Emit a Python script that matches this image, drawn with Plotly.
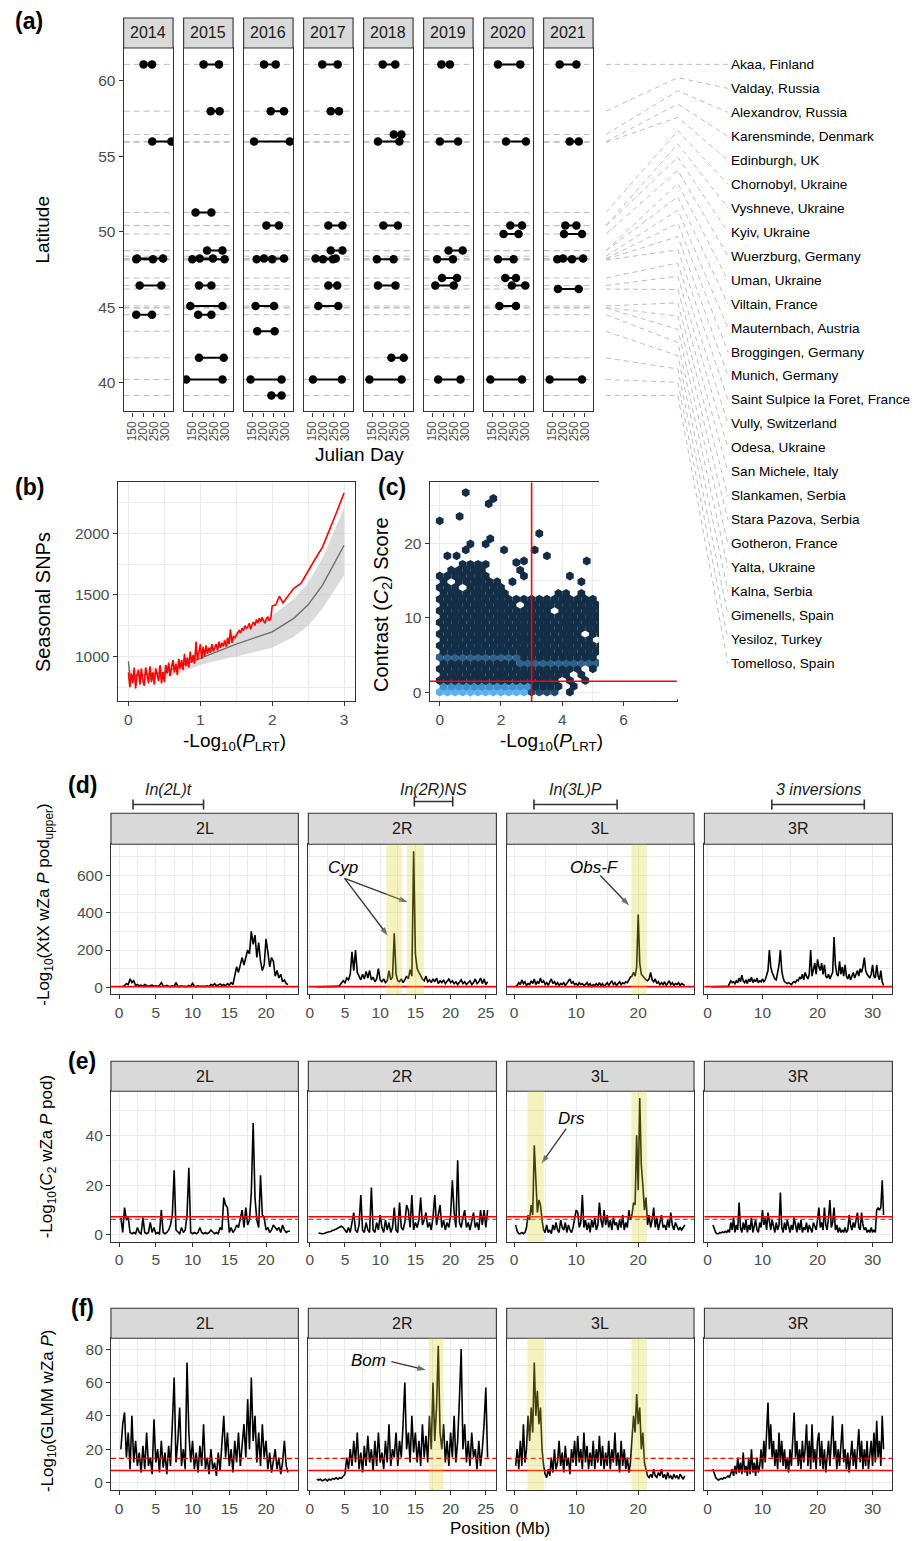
import numpy as np
import plotly.graph_objects as go

W, H = 920, 1541          # browser window
OFF = 8                   # page body margin
FW, FH = W - OFF, H - OFF  # figure size so that the figure ends at the window edge
FONT = "Liberation Sans, Arial, sans-serif"
INK = "#1A1A1A"
TICK_C = "#4D4D4D"
BORDER = "#333333"
GRID = "#EBEBEB"
RED = "#FF0000"

# ================= (a) sampling data =================
years = [2014, 2015, 2016, 2017, 2018, 2019, 2020, 2021]
locations = ["Akaa, Finland", "Valday, Russia", "Alexandrov, Russia", "Karensminde, Denmark",
             "Edinburgh, UK", "Chornobyl, Ukraine", "Vyshneve, Ukraine", "Kyiv, Ukraine",
             "Wuerzburg, Germany", "Uman, Ukraine", "Viltain, France", "Mauternbach, Austria",
             "Broggingen, Germany", "Munich, Germany", "Saint Sulpice la Foret, France",
             "Vully, Switzerland", "Odesa, Ukraine", "San Michele, Italy", "Slankamen, Serbia",
             "Stara Pazova, Serbia", "Gotheron, France", "Yalta, Ukraine", "Kalna, Serbia",
             "Gimenells, Spain", "Yesiloz, Turkey", "Tomelloso, Spain"]
latitudes = [61.10, 58.00, 56.45, 55.98, 55.93, 51.28, 50.42, 50.40, 49.85, 48.76, 48.74,
             48.38, 48.22, 48.18, 48.12, 46.93, 46.44, 46.20, 45.08, 44.97, 44.94, 44.50,
             43.40, 41.64, 40.20, 39.14]

sample_year = [2014, 2014, 2014, 2014, 2014, 2014,
               2015, 2015, 2015, 2015, 2015, 2015, 2015, 2015, 2015, 2015, 2015,
               2016, 2016, 2016, 2016, 2016, 2016, 2016, 2016, 2016, 2016,
               2017, 2017, 2017, 2017, 2017, 2017, 2017, 2017, 2017,
               2018, 2018, 2018, 2018, 2018, 2018, 2018, 2018,
               2019, 2019, 2019, 2019, 2019, 2019, 2019,
               2020, 2020, 2020, 2020, 2020, 2020, 2020, 2020, 2020,
               2021, 2021, 2021, 2021, 2021, 2021, 2021, 2021]
sample_site = ["Akaa", "Karensminde", "Munich", "Broggingen", "Odesa", "Yalta",
               "Akaa", "Valday", "Chornobyl", "Uman", "Munich", "Broggingen", "Odesa", "Slankamen", "Yalta", "Gimenells", "Yesiloz",
               "Akaa", "Valday", "Karensminde", "Vyshneve", "Munich", "Broggingen", "Slankamen", "Kalna", "Yesiloz", "Tomelloso",
               "Akaa", "Valday", "Vyshneve", "Uman", "Broggingen", "Munich", "Odesa", "Slankamen", "Yesiloz",
               "Akaa", "Alexandrov", "Karensminde", "Vyshneve", "Munich", "Odesa", "Gimenells", "Yesiloz",
               "Akaa", "Karensminde", "Uman", "Munich", "Vully", "Odesa", "Yesiloz",
               "Akaa", "Karensminde", "Vyshneve", "Wuerzburg", "Munich", "Vully", "Odesa", "Slankamen", "Yesiloz",
               "Akaa", "Karensminde", "Vyshneve", "Wuerzburg", "Munich", "Broggingen", "San Michele", "Yesiloz"]
spring_day = [202, 242, 168, 172, 184, 168,
              202, 235, 165, 218, 150, 184, 181, 141, 177, 181, 122,
              204, 235, 158, 215, 170, 204, 165, 173, 142, 238,
              196, 235, 224, 235, 165, 199, 224, 178, 153,
              198, 249, 176, 201, 171, 176, 238, 137,
              192, 185, 225, 172, 195, 164, 177,
              176, 213, 233, 202, 176, 210, 240, 183, 141,
              184, 230, 210, 204, 173, 199, 176, 138]
fall_day = [241, 330, 245, 292, 284, 241,
            273, 276, 238, 289, 299, 245, 238, 289, 238, 295, 289,
            258, 296, 323, 273, 242, 296, 250, 253, 285, 285,
            267, 273, 289, 289, 258, 245, 265, 270, 286,
            256, 284, 275, 268, 248, 257, 295, 285,
            231, 269, 290, 245, 264, 249, 280,
            279, 305, 287, 271, 248, 259, 302, 259, 287,
            261, 272, 261, 287, 241, 292, 272, 287]

# ================= (b) seasonal SNP counts =================
b_obs_step = 0.02
b_obs_low = [870, 750, 860, 780, 910, 740, 850, 890, 770, 900, 800, 760, 910, 830, 780, 920, 790, 870, 770, 900, 840, 800, 930, 780, 870,
             790, 930, 860, 950, 840, 910, 970, 870, 940, 850, 980, 900, 970, 890, 1020, 920, 990, 910, 1040, 950, 1010, 940, 1120, 970, 1030,
             1100, 980, 1080, 1000, 1090, 1020, 1070, 1030, 1100, 1040, 1080, 1100, 1050, 1120, 1070, 1110, 1080, 1130, 1080, 1150, 1100, 1220, 1110, 1160, 1150,
             1170, 1190, 1210, 1190, 1230, 1210, 1250, 1230, 1240, 1270, 1220, 1260, 1280, 1250, 1300, 1270, 1310, 1280, 1320, 1290, 1270, 1310, 1320, 1290, 1310]
b_obs_high_x = [2.0, 2.05, 2.1, 2.15, 2.2, 2.3, 2.4, 2.5, 2.6, 2.7, 2.8, 2.9, 3.0]
b_obs_high_y = [1410, 1420, 1490, 1435, 1475, 1555, 1595, 1700, 1795, 1890, 2030, 2180, 2330]
b_null_x = [0, 0.02, 0.5, 1.0, 1.3, 1.5, 2.0, 2.3, 2.5, 2.7, 3.0]
b_null_mean = [960, 840, 870, 985, 1060, 1100, 1200, 1310, 1420, 1580, 1905]
b_null_lo = [800, 790, 820, 930, 975, 1000, 1070, 1160, 1250, 1390, 1660]
b_null_hi = [960, 890, 920, 1040, 1130, 1200, 1335, 1465, 1600, 1800, 2210]

# ================= (c) hexbin of C2 vs P_LRT =================
hex_row_y = [0.00, 0.78, 1.56, 2.34, 3.12, 3.90, 4.68, 5.46, 6.24, 7.02, 7.80, 8.58,
             9.36, 10.14, 10.92, 11.70, 12.48, 13.26, 14.04, 14.82, 15.60, 16.38, 17.16]
hex_row_xmin = [0, 0.125, 0, 0.125, 0, 0.125, 0, 0.125, 0, 0.125, 0, 0.125,
                0, 0.125, 0, 0.125, 0, 0.125, 0, 0.125, 0, 0.375, 0.75]
hex_row_xmax = [3.75, 3.875, 3.75, 4.125, 4.5, 5.125, 5.0, 5.375, 5.25, 4.875, 5.25, 5.375,
                5.25, 5.125, 5.25, 5.625, 5.0, 2.125, 2.0, 1.875, 1.5, 1.375, 1.5]
hex_hole_x = [0.75, 0.375, 2.625, 3.75, 4.75]
hex_hole_y = [14.04, 14.82, 11.70, 10.92, 7.80]
hex_dense_y = [0.00, 0.00, 0.78, 3.90, 4.68]
hex_dense_x0 = [0.0, 3.0, 0.125, 2.625, 0.0]
hex_dense_x1 = [2.75, 3.75, 2.875, 5.125, 2.5]
hex_dense_count = [100, 22, 75, 40, 40]
hex_out_x = [4.25, 4.375, 4.25, 4.75, 4.625, 5.0, 5.625, 5.5, 5.75, 6.75, 5.625, 5.875, 6.0,
             3.875, 4.125, 4.625, 7.125, 5.5, 6.5, 2.375, 4.625, 6.875, 7.5, 2.75, 4.25,
             2.625, 2.5, 2.75, 4.8, 0.25, 0.55, 3.5, 0.85, 2.1, 3.1, 1.0, 1.5, 1.65, 3.25,
             0.0, 0.65, 1.6, 1.75, 0.85]
hex_out_y = [0.00, 0.78, 1.56, 1.56, 2.34, 3.12, 5.46, 6.24, 6.24, 9.36, 10.14, 10.14, 10.92,
             13.26, 13.26, 13.26, 13.26, 14.04, 14.04, 14.82, 14.82, 14.82, 14.82, 15.60, 15.60,
             16.38, 17.4, 17.6, 17.6, 18.3, 18.3, 18.3, 19.1, 19.1, 19.1, 19.9, 19.9, 20.6, 21.3,
             23.0, 23.6, 25.3, 26.0, 26.8]
c_p_cut = 3.0
c_c2_cut = 1.45

# ================= (d)-(f) genome scans (0.25 Mb windows) =================
chroms = ["2L", "2R", "3L", "3R"]
win_step = 0.25
d_start = [0.5, 1.0, 0.25, 0.75]
d_vals = [
    [5, 10, 20, 15, 45, 25, 35, 10, 15, 8, 12, 5, 15, 8, 5, 10, 12, 6, 8, 5, 10, 25, 8, 5, 10, 6, 4, 8, 5, 25,
     6, 4, 8, 5, 6, 4, 10, 5, 22, 6, 4, 8, 5, 4, 6, 5, 8, 4, 15, 10, 20, 8, 12, 18, 10, 15, 8, 20, 12, 25,
     15, 60, 110, 80, 130, 160, 120, 170, 200, 180, 300, 230, 280, 160, 240, 140, 90, 120, 260, 190, 110, 160,
     140, 60, 90, 50, 70, 30, 40, 20, 15],
    [3, 3, 2, 3, 2, 3, 2, 3, 2, 3, 3, 4, 5, 10, 20, 35, 25, 50, 40, 70, 190, 90, 200, 80, 60, 40, 70, 45, 85, 50,
     90, 40, 55, 30, 45, 100, 40, 30, 45, 25, 35, 90, 40, 55, 290, 70, 35, 30, 45, 25, 40, 60, 45, 95, 60, 730,
     180, 100, 80, 60, 45, 35, 60, 30, 40, 25, 45, 30, 50, 20, 35, 25, 40, 20, 30, 45, 25, 35, 20, 30, 15, 25,
     40, 20, 30, 15, 25, 35, 15, 25, 45, 20, 30, 50, 20, 45, 15, 30],
    [5, 10, 25, 15, 40, 20, 30, 10, 20, 15, 35, 20, 45, 15, 30, 20, 50, 25, 35, 15, 25, 10, 30, 45, 20, 30, 15,
     25, 10, 20, 15, 25, 10, 20, 30, 45, 20, 30, 15, 20, 10, 25, 15, 20, 10, 15, 25, 10, 20, 5, 15, 10, 20, 8,
     25, 10, 20, 5, 15, 25, 10, 20, 35, 15, 25, 10, 20, 30, 15, 25, 20, 30, 25, 45, 55, 60, 80, 60, 110, 390,
     130, 70, 60, 45, 40, 35, 45, 80, 40, 30, 45, 20, 30, 15, 25, 15, 30, 10, 20, 35, 15, 25, 10, 20, 15, 25,
     10, 20, 15, 10],
    [3, 3, 2, 3, 2, 3, 2, 3, 2, 3, 3, 4, 5, 20, 35, 25, 30, 20, 35, 25, 50, 30, 65, 35, 25, 40, 20, 45, 30, 55,
     25, 40, 30, 50, 25, 35, 30, 45, 30, 40, 60, 90, 200, 110, 80, 60, 45, 40, 80, 120, 200, 90, 50, 30, 25, 20,
     25, 20, 15, 25, 30, 25, 40, 35, 55, 45, 70, 40, 80, 60, 45, 70, 200, 60, 90, 130, 70, 150, 110, 90, 130,
     70, 120, 60, 50, 70, 45, 60, 80, 270, 120, 70, 60, 140, 70, 110, 60, 120, 60, 45, 70, 40, 60, 80, 50, 70,
     90, 60, 100, 80, 110, 160, 90, 70, 60, 50, 70, 120, 60, 50, 120, 60, 40, 90, 30, 10],
]
d_threshold = 4
e_start = [0.25, 1.25, 0.25, 1.0]
e_vals = [
    [7, 1, 11, 6, 7, 1, 0.5, 1, 0.5, 3, 1, 0.5, 7, 1, 0.5, 1, 5, 1, 3, 0.5, 1, 0.5, 10, 1, 0.5, 1, 2, 4, 8, 26,
     2, 1, 0.5, 3, 1, 2, 8, 27, 1, 0.5, 1, 0.5, 1, 3, 1, 0.5, 1, 0.5, 1, 2, 1, 0.5, 1, 0.5, 3, 2, 15, 12, 11, 1,
     3, 1, 2, 4, 3, 6, 10, 3, 11, 4, 6, 17, 45, 15, 6, 3, 24, 8, 7, 2, 3, 1, 2, 4, 3, 2, 3, 1, 4, 2, 1, 1.5, 1.5],
    [0.8, 0.6, 0.5, 0.6, 0.9, 1.0, 1.3, 1.4, 1.9, 2.0, 2.4, 2.6, 3.1, 3.5, 3, 2, 1, 3, 1, 5, 9, 2, 1, 4, 16,
     2, 1, 5, 2, 1, 19, 2, 1, 5, 2, 8, 3, 1, 6, 2, 5, 1, 3, 11, 2, 1, 13, 3, 2, 5, 12, 10, 3, 16, 2, 5, 3, 6,
     15, 4, 6, 9, 3, 5, 2, 7, 16, 4, 8, 12, 3, 6, 2, 5, 3, 8, 22, 9, 3, 30, 5, 3, 7, 10, 3, 5, 2, 6, 9, 3, 5,
     2, 10, 4, 10, 3, 10],
    [4, 1.5, 0.5, 0.5, 1, 0.5, 1, 3, 8, 6, 12, 8, 36, 22, 9, 14, 12, 6, 2, 1, 4, 1, 2, 0.5, 4, 2, 5, 2, 1, 6,
     3, 2, 5, 1, 4, 2, 1, 3, 7, 10, 9, 3, 5, 16, 3, 6, 2, 5, 1, 6, 3, 7, 2, 4, 13, 6, 3, 10, 4, 8, 3, 6, 2, 7,
     4, 5, 2, 6, 3, 8, 2, 5, 3, 10, 6, 8, 13, 12, 40, 18, 55, 28, 20, 10, 15, 4, 8, 3, 6, 11, 3, 7, 2, 5, 8, 3,
     4, 2, 6, 3, 9, 4, 2, 5, 3, 2, 3, 2, 3, 4],
    [4, 2, 1, 0.5, 0.5, 1, 0.8, 1.2, 1, 1.5, 1, 2, 1, 5, 2, 7, 1, 4, 2, 13, 3, 1, 5, 2, 6, 1, 4, 2, 7, 1, 3, 6,
     2, 1, 5, 3, 10, 4, 7, 2, 9, 5, 2, 6, 3, 1, 5, 2, 4, 17, 3, 1, 5, 2, 6, 3, 1, 4, 2, 7, 3, 1, 5, 2, 6, 1, 3,
     2, 5, 1, 4, 2, 1, 5, 3, 2, 6, 11, 3, 5, 2, 11, 4, 2, 7, 14, 3, 5, 11, 2, 4, 1, 3, 1, 2, 1, 3, 1, 2, 8, 4,
     2, 5, 3, 6, 9, 3, 2, 9, 4, 2, 3, 1, 2, 1, 3, 1, 2, 1, 10, 11, 10, 11, 22, 8],
]
e_thr_solid = 7.3
e_thr_dashed = 6.3
f_start = [0.25, 1.0, 0.25, 1.0]
f_vals = [
    [20, 35, 42, 15, 30, 8, 40, 12, 25, 10, 18, 6, 22, 8, 30, 10, 15, 5, 38, 12, 20, 6, 25, 9, 18, 5, 22, 10,
     35, 63, 12, 25, 45, 10, 20, 8, 72, 30, 12, 25, 8, 18, 6, 22, 10, 35, 8, 15, 5, 20, 8, 12, 4, 18, 7, 25,
     40, 15, 30, 10, 20, 6, 25, 12, 30, 10, 22, 35, 15, 50, 20, 63, 25, 40, 12, 30, 10, 35, 15, 25, 8, 18, 6,
     12, 20, 8, 15, 5, 12, 25, 10, 6],
    [2, 1.5, 2, 1, 1.5, 2, 1, 2, 1.5, 2.5, 2, 3, 2, 3, 2.5, 4, 5, 15, 8, 20, 10, 25, 12, 30, 8, 18, 6, 22, 10,
     28, 12, 20, 7, 25, 10, 30, 12, 18, 8, 25, 12, 35, 10, 20, 15, 30, 10, 25, 15, 35, 60, 20, 30, 12, 40, 18,
     30, 12, 25, 10, 35, 15, 28, 12, 40, 20, 60, 25, 45, 82, 30, 20, 35, 12, 25, 10, 30, 15, 40, 12, 25, 50,
     80, 20, 35, 12, 25, 10, 30, 15, 20, 8, 25, 10, 20, 35, 57, 15],
    [10, 20, 8, 25, 10, 35, 12, 20, 40, 25, 45, 30, 72, 40, 55, 35, 45, 20, 10, 5, 3, 8, 4, 15, 6, 20, 8, 12,
     25, 10, 18, 6, 22, 10, 15, 5, 20, 12, 25, 10, 28, 12, 20, 8, 30, 12, 22, 8, 18, 10, 25, 8, 20, 12, 28, 10,
     22, 8, 18, 10, 25, 8, 20, 12, 30, 10, 18, 6, 25, 10, 20, 8, 15, 6, 12, 25, 40, 30, 53, 35, 45, 20, 30, 12,
     8, 4, 3, 5, 3, 8, 4, 3, 6, 4, 8, 3, 5, 2, 6, 3, 4, 2, 5, 3, 4, 2, 5, 3, 2, 4],
    [8, 5, 3, 2, 1.5, 2, 2.5, 2, 3, 2.5, 3, 4, 3, 5, 8, 4, 10, 5, 15, 6, 12, 5, 18, 6, 10, 4, 15, 5, 20, 6, 12,
     4, 15, 6, 10, 20, 8, 25, 12, 30, 48, 20, 35, 15, 25, 10, 20, 8, 30, 12, 25, 10, 20, 8, 15, 6, 20, 10, 30,
     42, 15, 25, 10, 20, 8, 25, 12, 20, 35, 10, 25, 8, 35, 12, 20, 8, 25, 30, 10, 25, 8, 20, 6, 15, 25, 10,
     30, 40, 15, 25, 8, 20, 10, 25, 35, 12, 20, 8, 18, 6, 15, 25, 10, 20, 8, 18, 32, 12, 25, 8, 20, 10, 25, 8,
     15, 25, 10, 30, 12, 37, 15, 25, 10, 40, 20],
]
f_thr_solid = 7.2
f_thr_dashed = 14.5

# highlighted candidate regions (Mb) per panel/chromosome
d_bands = {"2R": [(10.85, 13.1), (13.8, 16.2)], "3L": [(18.9, 21.4)]}
e_bands = {"3L": [(2.15, 4.8), (18.9, 21.4)]}
f_bands = {"2R": [(16.9, 19.0)], "3L": [(2.15, 4.8), (18.9, 21.4)]}
inversions = [("2L", "In(2L)t", 1.9, 11.5), ("2R", "In(2R)NS", 14.85, 20.3),
              ("3L", "In(3L)P", 3.2, 16.6), ("3R", "3 inversions", 11.7, 28.5)]

# ================= figure building =================
fig = go.Figure()
shapes, annotations, layout = [], [], {}


def fx(x):
    return (x - OFF) / FW


def fy(y):
    return 1 - (y - OFF) / FH


def sfx(n):
    return "" if n == 1 else str(n)


AXBASE = dict(showline=True, mirror=True, linecolor=BORDER, linewidth=1.1, zeroline=False,
              ticks="outside", ticklen=4, tickwidth=1, tickcolor=BORDER,
              tickfont=dict(family=FONT, size=15.5, color=TICK_C), showgrid=False, fixedrange=True)


def set_axes(n, xd, yd, xr, yr, xkw=None, ykw=None):
    s = sfx(n)
    xa = dict(AXBASE)
    xa.update(domain=[fx(xd[0]), fx(xd[1])], range=xr, anchor="y" + s)
    ya = dict(AXBASE)
    ya.update(domain=[fy(yd[1]), fy(yd[0])], range=yr, anchor="x" + s)
    if xkw:
        xa.update(xkw)
    if ykw:
        ya.update(ykw)
    layout["xaxis" + s] = xa
    layout["yaxis" + s] = ya
    return "x" + s, "y" + s


def grid(dtick, minor_dtick, tick0=0):
    return dict(showgrid=True, gridcolor=GRID, gridwidth=1.1, tickmode="linear", tick0=tick0, dtick=dtick,
                minor=dict(tick0=tick0, dtick=minor_dtick, showgrid=True, gridcolor=GRID, gridwidth=0.5, ticks=""))


def strip(xd, yd, label):
    shapes.append(dict(type="rect", xref="paper", yref="paper", x0=fx(xd[0]), x1=fx(xd[1]),
                       y0=fy(yd[1]), y1=fy(yd[0]), fillcolor="#D9D9D9",
                       line=dict(color=BORDER, width=1.1), layer="above"))
    annotations.append(dict(text=label, xref="paper", yref="paper", x=fx((xd[0] + xd[1]) / 2),
                            y=fy((yd[0] + yd[1]) / 2), showarrow=False, xanchor="center",
                            yanchor="middle", font=dict(family=FONT, size=16, color=INK)))


def text(t, x, y, size, angle=0, bold=False, color="black"):
    annotations.append(dict(text=("<b>%s</b>" % t) if bold else t, xref="paper", yref="paper",
                            x=fx(x), y=fy(y), showarrow=False, textangle=angle,
                            xanchor="center", yanchor="middle", font=dict(family=FONT, size=size, color=color)))


# ---------- (a) ----------
A_LEFT0, A_STEP, A_W = 121.0, 60.2, 49.6
A_TOP, A_BOT, A_STRIP = 48.0, 412.0, 18.0
A_XR = [110, 338]
A_YR = [38.08, 62.19]
site_index = {name.split(",")[0]: i for i, name in enumerate(locations)}

for k, yr in enumerate(years):
    n = k + 1
    xd = (A_LEFT0 + k * A_STEP, A_LEFT0 + k * A_STEP + A_W)
    xkw = dict(tickmode="array", tickvals=[150, 200, 250, 300], tickangle=-90,
               tickfont=dict(family=FONT, size=12, color=TICK_C))
    if k == 0:
        ykw = dict(tickmode="array", tickvals=[40, 45, 50, 55, 60])
    else:
        ykw = dict(showticklabels=False, ticks="")
    xa, ya = set_axes(n, xd, (A_TOP, A_BOT), A_XR, A_YR, xkw, ykw)
    strip(xd, (A_STRIP, A_TOP), str(yr))
    for lat in latitudes:
        shapes.append(dict(type="line", xref=xa + " domain", x0=0, x1=1, yref=ya, y0=lat, y1=lat,
                           line=dict(color="#BEBEBE", width=1, dash="6px,4px"), layer="below"))
    lx, ly, mx, my = [], [], [], []
    for y_, site, d0, d1 in zip(sample_year, sample_site, spring_day, fall_day):
        if y_ != yr:
            continue
        lat = latitudes[site_index[site]]
        lx += [d0, d1, None]
        ly += [lat, lat, None]
        mx += [d0, d1]
        my += [lat, lat]
    fig.add_trace(go.Scatter(x=lx, y=ly, mode="lines", line=dict(color="black", width=2),
                             xaxis=xa, yaxis=ya, hoverinfo="skip"))
    fig.add_trace(go.Scatter(x=mx, y=my, mode="markers", marker=dict(color="black", size=8.5),
                             xaxis=xa, yaxis=ya, hoverinfo="skip"))

# connectors from latitude to label
PXDEG = (A_BOT - A_TOP) / (A_YR[1] - A_YR[0])
C_BOT = 700.0
cx, cy = set_axes(23, (598, 728), (A_TOP, C_BOT), [0, 1], [A_YR[1] - (C_BOT - A_TOP) / PXDEG, A_YR[1]],
                  dict(visible=False), dict(visible=False))
nloc = len(locations)
mid_step = (latitudes[0] - latitudes[-1]) / (nloc - 1)
label_step = 24.0 / PXDEG
conx, cony = [], []
for i, (name, lat) in enumerate(zip(locations, latitudes)):
    mid = latitudes[0] - i * mid_step
    lab = latitudes[0] - i * label_step
    conx += [0.054, 0.608, 0.995, None]
    cony += [lat, mid, lab, None]
    annotations.append(dict(text=name, xref=cx, yref=cy, x=1.0, y=lab, xanchor="left", yanchor="middle",
                            xshift=0, showarrow=False, font=dict(family=FONT, size=13.6, color="black")))
fig.add_trace(go.Scatter(x=conx, y=cony, mode="lines", line=dict(color="#BEBEBE", width=1, dash="5px,4px"),
                         xaxis=cx, yaxis=cy, hoverinfo="skip"))

# ---------- (b) ----------
bx, by = set_axes(9, (115, 353), (483, 702), [-0.15, 3.15], [636, 2417],
                  grid(1, 0.5), grid(500, 250))
fig.add_trace(go.Scatter(x=b_null_x + b_null_x[::-1], y=b_null_hi + b_null_lo[::-1], fill="toself",
                         fillcolor="rgba(190,190,190,0.55)", line=dict(width=0), mode="lines",
                         xaxis=bx, yaxis=by, hoverinfo="skip"))
b_obs_x = list(np.round(np.arange(len(b_obs_low)) * b_obs_step, 3)) + b_obs_high_x
b_obs_y = b_obs_low + b_obs_high_y
fig.add_trace(go.Scatter(x=b_null_x, y=b_null_mean, mode="lines", line=dict(color="#6E6E6E", width=1.4),
                         xaxis=bx, yaxis=by, hoverinfo="skip"))
fig.add_trace(go.Scatter(x=b_obs_x, y=b_obs_y, mode="lines", line=dict(color=RED, width=1.6),
                         xaxis=bx, yaxis=by, hoverinfo="skip"))

# ---------- (c) ----------
hx_, hy_ = set_axes(10, (428, 676), (483, 702), [-0.33, 7.74], [-1.21, 28.17],
                    grid(2, 1), grid(10, 5))
HEX_DX = 0.25
cell_x, cell_y, cell_c = [], [], []
for ry, x0, x1 in zip(hex_row_y, hex_row_xmin, hex_row_xmax):
    ncell = int(round((x1 - x0) / HEX_DX)) + 1
    for kk in range(ncell):
        x = x0 + kk * HEX_DX
        if any(abs(x - a) < 0.01 and abs(ry - b) < 0.01 for a, b in zip(hex_hole_x, hex_hole_y)):
            continue
        cnt = 2
        for dy, da, db, dc in zip(hex_dense_y, hex_dense_x0, hex_dense_x1, hex_dense_count):
            if abs(ry - dy) < 0.01 and da - 1e-6 <= x <= db + 1e-6:
                cnt = dc
        cell_x.append(x)
        cell_y.append(ry)
        cell_c.append(cnt)
for a, b in zip(hex_out_x, hex_out_y):
    cell_x.append(a)
    cell_y.append(b)
    cell_c.append(1)
fig.add_trace(go.Scatter(x=cell_x, y=cell_y, mode="markers",
                         marker=dict(symbol="hexagon", size=8.9, color=cell_c, cmin=0, cmax=100,
                                     colorscale=[[0, "#132B43"], [1, "#56B1F7"]], line=dict(width=0)),
                         xaxis=hx_, yaxis=hy_, hoverinfo="skip"))
shapes.append(dict(type="line", xref=hx_, yref=hy_ + " domain", x0=c_p_cut, x1=c_p_cut, y0=0, y1=1,
                   line=dict(color=RED, width=1.6), layer="above"))
shapes.append(dict(type="line", xref=hx_ + " domain", yref=hy_, x0=0, x1=1, y0=c_c2_cut, y1=c_c2_cut,
                   line=dict(color=RED, width=1.6), layer="above"))

# ---------- (d)-(f) ----------
FX = [(108.3, 296.3), (306.3, 495.0), (505.3, 693.3), (703.7, 892.3)]
XR = [[-1.1, 24.4], [-0.2, 26.5], [-1.2, 29.0], [-0.55, 33.6]]
XD = [5, 5, 10, 10]
rows = [
    dict(n0=11, strip=(814.3, 845.3), plot=(845.3, 995.7), yr=[-38, 768], dt=200, mdt=100,
         start=d_start, vals=d_vals, solid=d_threshold, dashed=None, bands=d_bands),
    dict(n0=15, strip=(1062.7, 1092.7), plot=(1092.7, 1243.3), yr=[-2.7, 57.7], dt=20, mdt=10,
         start=e_start, vals=e_vals, solid=e_thr_solid, dashed=e_thr_dashed, bands=e_bands),
    dict(n0=19, strip=(1310.0, 1340.0), plot=(1340.0, 1492.0), yr=[-4.5, 86.5], dt=20, mdt=10,
         start=f_start, vals=f_vals, solid=f_thr_solid, dashed=f_thr_dashed, bands=f_bands),
]
axmap = {}
for ri, row in enumerate(rows):
    for c, ch in enumerate(chroms):
        n = row["n0"] + c
        ykw = grid(row["dt"], row["mdt"])
        if c > 0:
            ykw.update(showticklabels=False, ticks="")
        xa, ya = set_axes(n, FX[c], row["plot"], XR[c], row["yr"], grid(XD[c], XD[c] / 2), ykw)
        axmap[(ri, ch)] = (xa, ya)
        strip(FX[c], row["strip"], ch)
        vals = row["vals"][c]
        xs = row["start"][c] + win_step * np.arange(len(vals))
        fig.add_trace(go.Scatter(x=xs, y=vals, mode="lines", line=dict(color="black", width=1.6),
                                 xaxis=xa, yaxis=ya, hoverinfo="skip"))
        shapes.append(dict(type="line", xref=xa + " domain", x0=0, x1=1, yref=ya, y0=row["solid"],
                           y1=row["solid"], line=dict(color=RED, width=1.6), layer="above"))
        if row["dashed"] is not None:
            shapes.append(dict(type="line", xref=xa + " domain", x0=0, x1=1, yref=ya, y0=row["dashed"],
                               y1=row["dashed"], line=dict(color=RED, width=1.2, dash="5px,3px"),
                               layer="above"))
        for (b0, b1) in row["bands"].get(ch, []):
            shapes.append(dict(type="rect", xref=xa, yref=ya + " domain", x0=b0, x1=b1, y0=0, y1=1,
                               fillcolor="rgba(218,215,45,0.30)", line=dict(width=0), layer="above"))

# inversion brackets above (d)
BR_Y = 805.5
for ch, lab, s0, s1 in inversions:
    xa, ya = axmap[(0, ch)]
    yb = BR_Y - (3 if ch == "2R" else 0)
    for seg in [(s0, yb, s1, yb), (s0, yb - 5, s0, yb + 5), (s1, yb - 5, s1, yb + 5)]:
        shapes.append(dict(type="line", xref=xa, yref="paper", x0=seg[0], x1=seg[2],
                           y0=fy(seg[1]), y1=fy(seg[3]), line=dict(color=BORDER, width=1.6)))
    annotations.append(dict(text="<i>%s</i>" % lab, xref=xa, yref="paper", x=(s0 + s1) / 2, y=fy(790.5),
                            showarrow=False, xanchor="center", yanchor="middle",
                            font=dict(family=FONT, size=16, color=INK)))


def gene_label(row, ch, label, tx, ty, arrows):
    xa, ya = axmap[(row, ch)]
    annotations.append(dict(text="<i>%s</i>" % label, xref=xa, yref=ya, x=tx, y=ty, showarrow=False,
                            xanchor="center", yanchor="middle", font=dict(family=FONT, size=17, color="black")))
    for (t0x, t0y, hx, hy) in arrows:
        fig.add_trace(go.Scatter(x=[t0x, hx], y=[t0y, hy], mode="lines+markers",
                                 line=dict(color="#333333", width=1.3),
                                 marker=dict(symbol=["circle", "arrow"], size=[0, 9], angleref="previous",
                                             color="#333333", line=dict(width=0)),
                                 xaxis=xa, yaxis=ya, hoverinfo="skip"))


gene_label(0, "2R", "Cyp", 4.7, 645, [(4.95, 585, 13.9, 457), (4.95, 585, 11.1, 277)])
gene_label(0, "3L", "Obs-F", 12.9, 645, [(13.9, 600, 18.55, 439)])
gene_label(1, "3L", "Drs", 9.2, 46.7, [(8.4, 42.7, 4.4, 28.7)])
gene_label(2, "2R", "Bom", 8.4, 73.0, [(11.6, 72.5, 16.5, 67.5)])

# ---------- titles & panel letters ----------
text("Latitude", 40, 230, 19, -90)
text("Julian Day", 358, 455, 19)
text("Seasonal SNPs", 40, 603, 20, -90)
text("-Log<sub>10</sub>(<i>P</i><sub>LRT</sub>)", 232, 743, 19)
text("Contrast (<i>C</i><sub>2</sub>) Score", 380, 605, 20, -90)
text("-Log<sub>10</sub>(<i>P</i><sub>LRT</sub>)", 550, 743, 19)
text("-Log<sub>10</sub>(XtX wZa <i>P</i> pod<sub>upper</sub>)", 42, 906, 17, -90)
text("-Log<sub>10</sub>(<i>C</i><sub>2</sub> wZa <i>P</i> pod)", 46, 1158, 17, -90)
text("-Log<sub>10</sub>(GLMM wZa <i>P</i>)", 46, 1412, 17, -90)
text("Position (Mb)", 499, 1530, 17)
for lab, x, y in [("(a)", 26, 21), ("(b)", 27, 488), ("(c)", 390, 488),
                  ("(d)", 80, 786), ("(e)", 79, 1062), ("(f)", 80, 1310)]:
    text(lab, x, y, 23, bold=True)

layout.update(width=FW, height=FH, margin=dict(l=0, r=0, t=0, b=0), paper_bgcolor="white",
              plot_bgcolor="white", showlegend=False, hovermode=False,
              font=dict(family=FONT, color=INK), shapes=shapes, annotations=annotations)
fig.update_layout(**layout)
fig.write_html("out.html")
